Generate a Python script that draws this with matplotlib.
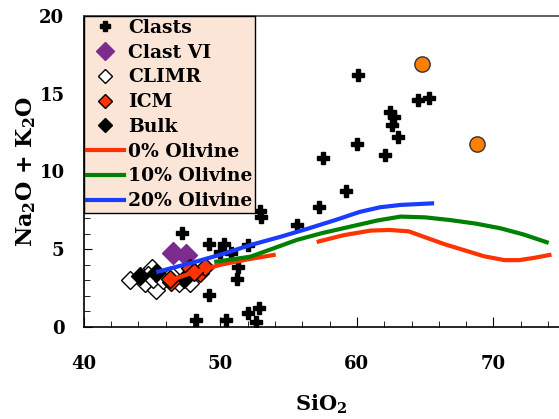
import matplotlib
matplotlib.use("Agg")
import matplotlib.pyplot as plt
from matplotlib.ticker import MultipleLocator

plt.rcParams['font.family'] = ['DejaVu Serif']
plt.rcParams['font.weight'] = 'bold'
plt.rcParams['mathtext.fontset'] = 'custom'
plt.rcParams['mathtext.rm'] = 'DejaVu Serif:bold'
plt.rcParams['mathtext.default'] = 'rm'

# data (SiO2, Na2O+K2O)
clasts_x = [60.1, 64.5, 65.3, 62.4, 62.7, 62.6, 63.0, 60.0, 62.05, 57.5, 59.2,
            57.2, 55.6, 52.9, 53.0, 47.2, 49.2, 50.3, 50.0, 50.8, 52.0, 51.3,
            51.2, 49.2, 48.25, 50.4, 52.0, 52.8, 52.6]
clasts_y = [16.2, 14.6, 14.75, 13.85, 13.5, 13.0, 12.2, 11.8, 11.06, 10.85, 8.77,
            7.7, 6.56, 7.45, 7.1, 6.07, 5.34, 5.34, 4.85, 4.73, 5.27, 3.88,
            3.1, 2.06, 0.45, 0.45, 0.88, 1.2, 0.34]

clast6_x = [46.5, 47.5]
clast6_y = [4.73, 4.63]

climr_x = [43.4, 45.0, 44.7, 44.5, 45.3, 45.1, 46.4, 47.0, 47.8, 45.8]
climr_y = [3.0, 3.77, 3.35, 2.8, 2.38, 3.1, 3.35, 2.8, 2.8, 3.0]

icm_x = [46.4, 46.3, 47.8, 48.5, 48.9, 48.1]
icm_y = [2.9, 3.1, 3.77, 3.45, 3.88, 3.56]

bulk_x = [44.1, 45.3, 47.3]
bulk_y = [3.25, 3.45, 3.1]

orange_x = [64.8, 68.8]
orange_y = [16.9, 11.8]

ol0_a_x = [46.3, 48.0, 50.0, 52.0, 53.9]
ol0_a_y = [3.0, 3.5, 4.0, 4.35, 4.63]
ol0_b_x = [57.2, 59.0, 61.0, 62.4, 63.8, 64.9, 66.5, 68.0, 69.3, 70.8, 71.9, 73.0, 74.1]
ol0_b_y = [5.5, 5.9, 6.2, 6.24, 6.15, 5.8, 5.3, 4.9, 4.55, 4.3, 4.3, 4.45, 4.63]

ol10_x = [49.7, 52.2, 55.6, 57.5, 59.5, 61.5, 63.2, 65.0, 66.8, 68.7, 70.5, 72.2, 73.9]
ol10_y = [4.2, 4.52, 5.6, 6.05, 6.45, 6.85, 7.1, 7.05, 6.88, 6.65, 6.35, 5.95, 5.45]

ol20_x = [45.45, 48.0, 50.0, 52.2, 54.4, 56.5, 58.5, 60.2, 61.7, 63.2, 65.5]
ol20_y = [3.56, 4.15, 4.65, 5.27, 5.8, 6.35, 6.9, 7.4, 7.7, 7.85, 7.95]

fig = plt.figure(figsize=(5.59, 4.19), dpi=100)
ax = fig.add_axes([0.150, 0.2196, 0.85, 0.7422])

ax.plot(clasts_x, clasts_y, 'P', color='black', markersize=9, linestyle='none',
        label='Clasts', zorder=3)
ax.plot(clast6_x, clast6_y, 'D', color='#7B2C8C', markersize=11, linestyle='none',
        label='Clast VI', zorder=3)
ax.plot(climr_x, climr_y, 'D', markerfacecolor='white', markeredgecolor='black',
        markersize=9, linestyle='none', label='CLIMR', zorder=3)
ax.plot(icm_x, icm_y, 'D', markerfacecolor='#FF3300', markeredgecolor='black',
        markersize=9, linestyle='none', label='ICM', zorder=4)
ax.plot(bulk_x, bulk_y, 'D', color='black', markersize=9, linestyle='none',
        label='Bulk', zorder=3)
ax.plot(orange_x, orange_y, 'o', markerfacecolor='#FF8000', markeredgecolor='#333333',
        markersize=11, linestyle='none', zorder=3)

ax.plot(ol0_a_x, ol0_a_y, color='#FF3300', lw=3, label='0% Olivine', zorder=5)
ax.plot(ol0_b_x, ol0_b_y, color='#FF3300', lw=3, zorder=5)
ax.plot(ol10_x, ol10_y, color='#008000', lw=3, label='10% Olivine', zorder=5)
ax.plot(ol20_x, ol20_y, color='#1A3CFF', lw=3, label='20% Olivine', zorder=5)

ax.set_xlim(40, 74.8)
ax.set_ylim(0, 20)
ax.xaxis.set_major_locator(MultipleLocator(10))
ax.xaxis.set_minor_locator(MultipleLocator(2))
ax.yaxis.set_major_locator(MultipleLocator(5))
ax.yaxis.set_minor_locator(MultipleLocator(1))
ax.tick_params(which='both', direction='in', labelsize=13)
ax.tick_params(axis='x', which='major', length=7, pad=20)
ax.tick_params(axis='y', which='major', length=6, pad=14)
ax.tick_params(which='minor', length=4)
ax.spines['right'].set_visible(False)
for s in ['left', 'bottom', 'top']:
    ax.spines[s].set_linewidth(1.2)
ax.spines['top'].set_color('#444444')

ax.set_xlabel(r'SiO$_2$', fontsize=15, fontweight='bold', labelpad=14)
ax.set_ylabel(r'Na$_2$O + K$_2$O', fontsize=16, fontweight='bold', labelpad=1)

leg = ax.legend(loc='upper left', borderaxespad=0, fontsize=13.5, fancybox=False,
                framealpha=1, facecolor='#FBE5D6', edgecolor='black',
                handlelength=2.0, handletextpad=0.2, labelspacing=0.36,
                borderpad=0.15, markerscale=0.8)
leg.get_frame().set_linewidth(1.0)
leg.set_zorder(10)

fig.savefig('out.png', dpi=100)
